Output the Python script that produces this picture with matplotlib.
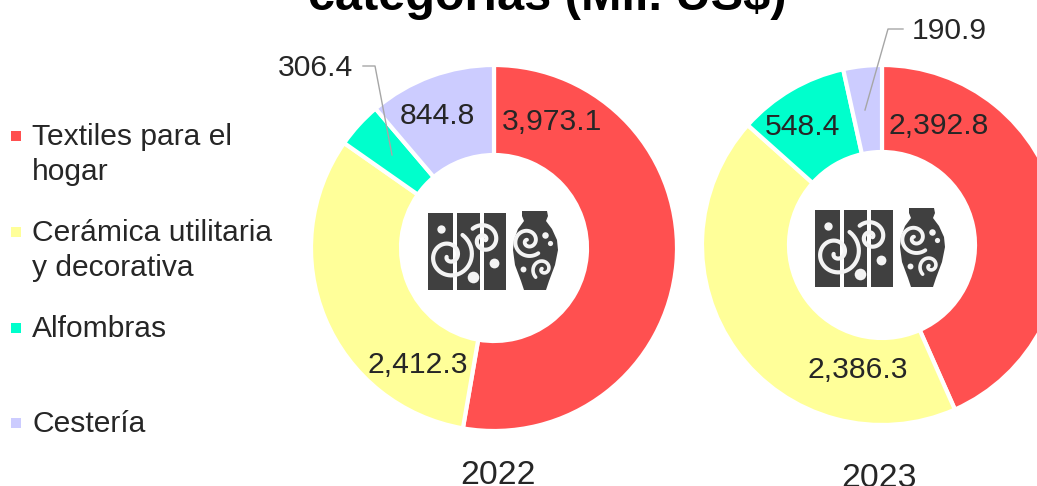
import numpy as np
import matplotlib
matplotlib.use('Agg')
import matplotlib.pyplot as plt
from matplotlib.patches import Rectangle, Polygon

plt.rcParams['font.family'] = ['Liberation Sans', 'DejaVu Sans']

years = ['2022', '2023']
categories = ['Textiles para el\nhogar', 'Cerámica utilitaria\ny decorativa', 'Alfombras', 'Cestería']
values_2022 = [3973.1, 2412.3, 306.4, 844.8]
values_2023 = [2392.8, 2386.3, 548.4, 190.9]
colors = ['#FF5050', '#FFFF99', '#00FFCC', '#CCCCFF']
title = 'categorías (Mil. US$)'

W, H = 1037, 486
DARK = '#404040'
TXT = '#262626'

fig = plt.figure(figsize=(W / 100, H / 100), dpi=100)


def donut(values, cx, cy, r, hole):
    ax = fig.add_axes([(cx - r) / W, 1 - (cy + r) / H, 2 * r / W, 2 * r / H])
    ax.pie(values, colors=colors, startangle=90, counterclock=False, radius=1,
           wedgeprops=dict(width=1 - hole / r, edgecolor='white', linewidth=3))
    ax.set_xlim(-1, 1)
    ax.set_ylim(-1, 1)
    return ax


donut(values_2022, 494, 248, 183, 93)
donut(values_2023, 882, 245, 180, 93)

# overlay in pixel coords for text, leaders and the icons
ov = fig.add_axes([0, 0, 1, 1])
ov.set_xlim(0, W)
ov.set_ylim(H, 0)
ov.axis('off')
ov.patch.set_alpha(0)


def spiral(x, y, r, turns, end_angle, lw=3.2):
    # drawn from the middle outwards, y axis points down
    t = np.linspace(0, 1, 90)
    a = end_angle + 2 * np.pi * turns * (1 - t)
    ov.plot(x + r * (0.1 + 0.9 * t) * np.cos(a), y + r * (0.1 + 0.9 * t) * np.sin(a),
            color='#F4F4F4', lw=lw, solid_capstyle='round', zorder=6)


def icon(dx, dy):
    for x0, x1 in [(428, 453), (457, 480), (484, 506)]:
        ov.add_patch(Rectangle((x0 + dx, 213 + dy), x1 - x0, 77, color=DARK, lw=0, zorder=5))
    spiral(449 + dx, 256 + dy, 25, 1.6, -1.0, lw=3.0)
    spiral(484 + dx, 240 + dy, 16, 1.4, -2.36, lw=3.0)
    for x, y, s in [(441, 229, 36), (473, 277, 70), (494, 263, 50)]:
        ov.scatter(x + dx, y + dy, s=s, color='#F4F4F4', lw=0, zorder=6)
    vase = [(522, 211), (547, 211), (548, 216), (546, 221), (552, 229), (557, 240), (558, 250),
            (555, 265), (549, 281), (546, 290), (524, 290), (521, 281), (515, 265), (513, 250),
            (514, 240), (518, 229), (524, 221), (522, 216)]
    ov.add_patch(Polygon([(x + dx, y + dy) for x, y in vase], color=DARK, lw=0, zorder=5))
    spiral(528 + dx, 241 + dy, 16, 1.5, 0.87, lw=2.8)
    spiral(543 + dx, 269 + dy, 11, 1.2, 2.3, lw=2.6)
    for x, y, s in [(545, 235, 22), (550, 243, 14), (523, 269, 18)]:
        ov.scatter(x + dx, y + dy, s=s, color='#F4F4F4', lw=0, zorder=6)


icon(0, 0)
icon(387, -3)

# leader lines
ov.plot([363, 375, 392], [66, 66, 155], color='#A6A6A6', lw=1, zorder=7)
ov.plot([903, 888, 865], [29, 29, 110], color='#A6A6A6', lw=1, zorder=7)

# data labels
label_pos_2022 = [(552, 122), (418, 365), (315, 68), (437, 116)]
label_pos_2023 = [(939, 126), (858, 370), (803, 127), (949, 31)]
for vals, pos in [(values_2022, label_pos_2022), (values_2023, label_pos_2023)]:
    for v, (x, y) in zip(vals, pos):
        ov.text(x, y, f'{v:,.1f}', fontsize=21.7, color=TXT, ha='center', va='center', zorder=8)

# year captions
for yr, x, y in zip(years, [498, 879], [475, 478]):
    ov.text(x, y, yr, fontsize=24.3, color=TXT, ha='center', va='center')

# legend
leg_y = [136, 232, 328, 423]
for cat, col, y in zip(categories, colors, leg_y):
    ov.add_patch(Rectangle((11, y - 5), 10, 10, color=col, lw=0))
    ov.text(32, y - 13, cat, fontsize=21.6, color=TXT, ha='left', va='top', linespacing=1.3)

ov.text(547, 10, title, fontsize=35, fontweight='bold', color='black', ha='center', va='baseline')

fig.savefig('out.png', dpi=100)
